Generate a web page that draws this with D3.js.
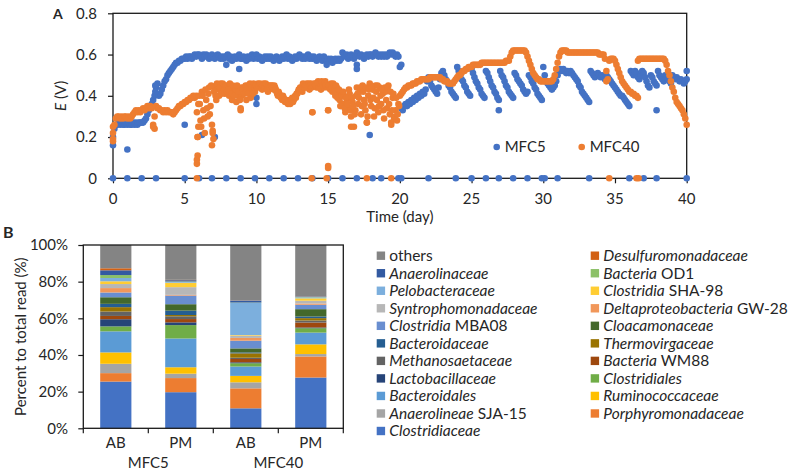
<!DOCTYPE html>
<html lang="en">
<head>
<meta charset="UTF-8" />
<title>MFC voltage and community</title>
<script src="https://d3js.org/d3.v7.min.js"></script>
<style>
  body { margin: 0; background: #fff; }
  svg { display: block; }
  text { font-family: Lato, "Open Sans", sans-serif; fill: #262626; }
</style>
</head>
<body>
<script>

// ---- panel A : cell voltage, one reading every 0.1 day ----
var dayStep = 0.1;

var mfc5 = [
  0.16,0.24,0.26,0.26,0.27,0.26,0.27,0.26,0.26,0.27,
  0.26,0.27,0.26,0.26,0.27,0.26,0.27,0.26,0.27,0.27,
  0.27,0.27,0.28,0.29,0.31,0.33,0.35,0.36,0.38,0.40,
  0.44,0.46,0.40,0.41,0.43,0.45,0.47,0.48,0.50,0.51,
  0.52,0.53,0.54,0.55,0.56,0.56,0.57,0.57,0.58,0.58,
  0.58,0.59,0.58,0.59,0.59,0.58,0.59,0.60,0.59,0.60,
  0.60,0.59,0.58,0.60,0.59,0.60,0.59,0.58,0.59,0.60,
  0.59,0.58,0.59,0.60,0.59,0.58,0.59,0.58,0.59,0.59,
  0.60,0.58,0.59,0.57,0.58,0.59,0.58,0.59,0.60,0.58,
  0.58,0.59,0.58,0.57,0.59,0.58,0.59,0.60,0.58,0.59,
  0.60,0.58,0.59,0.58,0.57,0.58,0.59,0.58,0.59,0.58,
  0.59,0.58,0.57,0.58,0.59,0.58,0.57,0.58,0.59,0.58,
  0.59,0.60,0.58,0.59,0.58,0.57,0.58,0.59,0.58,0.59,
  0.60,0.59,0.58,0.59,0.58,0.59,0.60,0.58,0.59,0.58,
  0.59,0.58,0.57,0.58,0.59,0.58,0.57,0.59,0.58,0.57,
  0.58,0.57,0.58,0.56,0.57,0.58,0.57,0.58,0.57,0.58,
  0.61,0.60,0.59,0.60,0.58,0.59,0.60,0.59,0.58,0.59,
  0.61,0.60,0.59,0.60,0.59,0.58,0.59,0.60,0.59,0.60,
  0.60,0.59,0.60,0.61,0.60,0.59,0.60,0.59,0.60,0.59,
  0.60,0.59,0.60,0.61,0.60,0.61,0.60,0.59,0.60,0.59,
  0.54,0.34,0.33,0.35,0.36,0.35,0.37,0.36,0.38,0.37,
  0.39,0.38,0.40,0.39,0.41,0.40,0.42,0.41,0.43,0.47,
  0.49,0.47,0.45,0.44,0.43,0.42,0.41,0.44,0.48,0.51,
  0.52,0.50,0.48,0.47,0.45,0.44,0.42,0.41,0.40,0.39,
  0.54,0.52,0.50,0.48,0.47,0.45,0.44,0.42,0.41,0.40,
  0.53,0.51,0.49,0.47,0.46,0.44,0.43,0.41,0.40,0.39,
  0.52,0.51,0.49,0.47,0.45,0.44,0.42,0.41,0.39,0.38,
  0.52,0.50,0.49,0.47,0.45,0.44,0.42,0.41,0.40,0.39,
  0.51,0.50,0.48,0.47,0.46,0.45,0.43,0.42,0.41,0.42,
  0.50,0.49,0.47,0.46,0.44,0.43,0.41,0.40,0.39,0.38,
  0.54,0.50,0.47,0.46,0.45,0.44,0.43,0.44,0.45,0.47,
  0.50,0.52,0.53,0.52,0.53,0.52,0.51,0.52,0.51,0.52,
  0.51,0.50,0.49,0.48,0.47,0.45,0.44,0.42,0.41,0.40,
  0.39,0.38,0.37,0.52,0.51,0.50,0.49,0.50,0.51,0.50,
  0.49,0.50,0.49,0.48,0.50,0.49,0.48,0.47,0.46,0.45,
  0.44,0.43,0.42,0.41,0.40,0.40,0.39,0.38,0.37,0.36,
  0.35,0.52,0.51,0.50,0.52,0.51,0.49,0.48,0.50,0.52,
  0.51,0.49,0.47,0.45,0.44,0.50,0.49,0.47,0.46,0.45,
  0.52,0.50,0.49,0.48,0.47,0.50,0.49,0.48,0.47,0.46,
  0.50,0.49,0.48,0.49,0.48,0.47,0.48,0.47,0.46,0.47,
  0.48
];

var mfc40 = [
  0.19,0.26,0.29,0.30,0.30,0.29,0.30,0.29,0.30,0.30,
  0.29,0.30,0.29,0.30,0.31,0.32,0.33,0.32,0.33,0.32,
  0.33,0.34,0.33,0.34,0.35,0.34,0.35,0.34,0.26,0.24,
  0.35,0.34,0.34,0.33,0.33,0.32,0.33,0.32,0.33,0.32,
  0.32,0.32,0.31,0.32,0.33,0.34,0.35,0.35,0.36,0.36,
  0.37,0.37,0.38,0.38,0.39,0.39,0.40,0.39,0.40,0.20,
  0.40,0.28,0.42,0.33,0.22,0.38,0.30,0.44,0.35,0.26,
  0.19,0.44,0.38,0.45,0.40,0.46,0.42,0.45,0.41,0.44,
  0.45,0.40,0.43,0.38,0.42,0.44,0.37,0.40,0.43,0.34,
  0.40,0.44,0.42,0.38,0.45,0.43,0.39,0.44,0.46,0.42,
  0.45,0.46,0.44,0.45,0.43,0.46,0.45,0.44,0.42,0.45,
  0.44,0.45,0.43,0.44,0.42,0.40,0.41,0.39,0.38,0.39,
  0.37,0.38,0.36,0.38,0.37,0.39,0.38,0.40,0.41,0.42,
  0.43,0.44,0.42,0.45,0.44,0.46,0.45,0.43,0.46,0.32,
  0.45,0.46,0.44,0.47,0.45,0.43,0.46,0.44,0.47,0.45,
  0.33,0.44,0.46,0.42,0.45,0.40,0.44,0.41,0.38,0.42,
  0.36,0.40,0.32,0.38,0.34,0.41,0.30,0.37,0.25,0.33,
  0.44,0.36,0.42,0.31,0.45,0.38,0.33,0.27,0.40,0.46,
  0.35,0.43,0.30,0.45,0.38,0.32,0.44,0.36,0.41,0.29,
  0.42,0.34,0.45,0.31,0.27,0.39,0.29,0.33,0.28,0.36,
  0.40,0.41,0.42,0.43,0.44,0.44,0.45,0.45,0.45,0.46,
  0.46,0.46,0.47,0.47,0.47,0.48,0.48,0.48,0.48,0.48,
  0.48,0.49,0.49,0.49,0.49,0.49,0.49,0.49,0.49,0.48,
  0.48,0.47,0.47,0.47,0.46,0.46,0.46,0.46,0.47,0.48,
  0.49,0.50,0.50,0.51,0.52,0.52,0.53,0.53,0.54,0.54,
  0.54,0.55,0.55,0.55,0.55,0.55,0.55,0.56,0.56,0.56,
  0.56,0.56,0.56,0.56,0.56,0.56,0.56,0.56,0.56,0.56,
  0.56,0.56,0.56,0.56,0.57,0.57,0.57,0.59,0.61,0.62,
  0.62,0.62,0.62,0.62,0.62,0.62,0.62,0.62,0.61,0.59,
  0.57,0.55,0.53,0.51,0.50,0.49,0.48,0.48,0.47,0.47,
  0.47,0.47,0.47,0.47,0.47,0.47,0.47,0.48,0.50,0.53,
  0.56,0.59,0.61,0.62,0.62,0.62,0.62,0.61,0.61,0.61,
  0.61,0.61,0.61,0.61,0.61,0.61,0.61,0.61,0.61,0.61,
  0.61,0.61,0.61,0.61,0.61,0.61,0.61,0.61,0.61,0.60,
  0.60,0.60,0.60,0.58,0.52,0.48,0.57,0.58,0.58,0.58,
  0.57,0.55,0.53,0.51,0.49,0.47,0.46,0.45,0.44,0.43,
  0.42,0.42,0.41,0.41,0.40,0.40,0.57,0.58,0.58,0.58,
  0.58,0.58,0.58,0.58,0.58,0.58,0.58,0.58,0.58,0.58,
  0.58,0.58,0.58,0.58,0.58,0.57,0.55,0.52,0.50,0.47,
  0.44,0.42,0.39,0.37,0.36,0.35,0.34,0.33,0.31,0.29,
  0.26
];

// MFC40 noisy stretch also logged half-way between the readings above (5.85 ... 19.95 day)
var mfc40HalfStart = 5.85;
var mfc40Half = [
  0.32,0.36,
  0.36,0.25,0.40,0.29,0.43,0.34,0.41,0.31,0.45,0.23,
  0.42,0.40,0.46,0.43,0.44,0.41,0.46,0.43,0.45,0.42,
  0.43,0.46,0.41,0.45,0.40,0.43,0.45,0.42,0.38,0.44,
  0.43,0.41,0.45,0.43,0.41,0.46,0.44,0.41,0.44,0.45,
  0.44,0.45,0.46,0.44,0.45,0.44,0.46,0.43,0.45,0.44,
  0.45,0.44,0.45,0.43,0.41,0.42,0.40,0.39,0.40,0.38,
  0.38,0.37,0.37,0.36,0.38,0.37,0.39,0.39,0.41,0.43,
  0.44,0.43,0.46,0.44,0.45,0.44,0.46,0.45,0.44,0.45,
  0.46,0.45,0.46,0.44,0.46,0.47,0.45,0.46,0.45,0.44,
  0.45,0.43,0.44,0.46,0.43,0.45,0.39,0.43,0.35,0.40,
  0.42,0.34,0.39,0.36,0.43,0.33,0.39,0.35,0.31,0.40,
  0.41,0.39,0.44,0.35,0.42,0.36,0.44,0.30,0.43,0.38,
  0.44,0.39,0.34,0.42,0.45,0.35,0.40,0.43,0.33,0.44,
  0.38,0.44,0.36,0.42,0.33,0.41,0.30,0.39,0.31,0.35
];

// stray readings [day, V]
var mfc5Stray = [[0,0.20],[1.0,0.14],[2.95,0.42],[2.95,0.45],[5.0,0.26],[6.2,0.21],[7.1,0.20],
  [7.9,0.55],[8.8,0.53],[10.0,0.39],[10.0,0.36],[14.9,0.55],[17.0,0.55],[17.0,0.53],
  [17.9,0.21],[20.1,0.55],[26.9,0.33],[37.9,0.33],[40,0.52]];
var mfc40Stray = [[0,0.22],[0,0.25],[0,0.18],[2.8,0.25],[2.9,0.30],[5.85,0.07],[5.85,0.09],
  [5.9,0.11],[5.9,0.20],[5.95,0.25],[6.9,0.16],[6.95,0.22],[8.9,0.33],[13.9,0.32],
  [15.0,0.06],[15.0,0.05],[15.0,0.33],[16.6,0.25],[17.7,0.27],[19.4,0.26],[34.4,0.47],[36.6,0.39]];

// days on which the cell read 0 V
var mfc5Zero = [0,1,2,3,5,6,6.9,7.9,8.9,9.9,10.9,11.9,12.9,13.9,15,16,17,18.1,18.7,19.9,20.1,
  22,23.9,25,26,26.9,27.9,28.9,29.9,30.1,31,33.2,36,37,37.9,40];
var mfc40Zero = [5.85,13.85,14.9,17.7,19.4,34.6,36.5,36.65];

var dayTicks = [0,5,10,15,20,25,30,35,40];
var voltTicks = [0,0.2,0.4,0.6,0.8];

// ---- panel B : relative abundance (%) , stacked from the bottom ----
var samples = ["MFC5 AB","MFC5 PM","MFC40 AB","MFC40 PM"];
var sampleLabels = ["AB","PM","AB","PM"];
var reactors = ["MFC5","MFC40"];

// [italic part, plain part]
var taxa = [
  ["Clostridiaceae",""],["Porphyromonadaceae",""],["Anaerolineae"," SJA-15"],["Ruminococcaceae",""],
  ["Bacteroidales",""],["Clostridiales",""],["Lactobacillaceae",""],["Bacteria"," WM88"],
  ["Methanosaetaceae",""],["Thermovirgaceae",""],["Bacteroidaceae",""],["Cloacamonaceae",""],
  ["Clostridia"," MBA08"],["Deltaproteobacteria"," GW-28"],["Syntrophomonadaceae",""],["Clostridia"," SHA-98"],
  ["Pelobacteraceae",""],["Bacteria"," OD1"],["Anaerolinaceae",""],["Desulfuromonadaceae",""],["","others"]
];
var taxaColors = ["#4472C4","#ED7D31","#A5A5A5","#FFC000","#5B9BD5","#70AD47","#264478","#9E480E",
  "#636363","#997300","#255E91","#43682B","#698ED0","#F1975A","#B7B7B7","#FFCD33",
  "#7CAFDD","#8CC168","#335AA1","#D26012","#848484"];

var mfc5AB  = [25.5,4.6,5.1,6.2,11.5,2.7,3.9,1.8,2.4,2.4,1.8,3.6,2.6,2.4,2.2,1.5,1.8,1.6,2.6,1.1,12.7];
var mfc5PM  = [19.7,7.7,2.4,3.5,15.7,7.3,1.5,1.8,1.5,0.7,2.4,3.5,4.7,0.4,4.2,2.4,0.4,0.3,0.7,0.2,19.0];
var mfc40AB = [10.9,10.9,3.3,3.5,5.1,1.8,0.5,1.8,0.7,2.4,0.5,2.2,4.2,1.5,1.3,0.3,17.5,0.2,1.1,0.1,30.2];
var mfc40PM = [27.7,11.5,1.3,5.3,6.4,2.4,0.4,2.7,1.1,1.3,0.9,4.0,2.4,0.7,1.5,1.3,0.5,0.2,0.3,0.1,28.0];
var pctTicks = [0,20,40,60,80,100];


var svg = d3.select("body").append("svg").attr("width", 792).attr("height", 474);
var fs = 15;

// ================= panel A =================
var xA = d3.scaleLinear().domain([0, 40]).range([113, 686.7]);
var yA = d3.scaleLinear().domain([0, 0.8]).range([178.3, 13.3]);
var blue = "#4472C4", orange = "#ED7D31";

function toPoints(arr, start) { return arr.map(function(v, i) { return [start + i * dayStep, v]; }); }

var gA = svg.append("g");
function dots(pts, color) {
  gA.append("g").selectAll("circle").data(pts).join("circle")
    .attr("cx", function(d) { return xA(d[0]); })
    .attr("cy", function(d) { return yA(d[1]); })
    .attr("r", 3.3).attr("fill", color);
}

// frame + ticks
gA.append("rect").attr("x", xA(0)).attr("y", yA(0.8))
  .attr("width", xA(40) - xA(0)).attr("height", yA(0) - yA(0.8))
  .attr("fill", "none").attr("stroke", "#1a1a1a").attr("stroke-width", 1.3);
gA.append("g").attr("transform", "translate(0," + yA(0) + ")")
  .call(d3.axisBottom(xA).tickValues(dayTicks).tickSize(5).tickFormat(""))
  .call(function(g) { g.select(".domain").remove(); g.selectAll("line").attr("stroke", "#1a1a1a").attr("stroke-width", 1.2); });
gA.append("g").attr("transform", "translate(" + xA(0) + ",0)")
  .call(d3.axisLeft(yA).tickValues(voltTicks).tickSize(5).tickFormat(""))
  .call(function(g) { g.select(".domain").remove(); g.selectAll("line").attr("stroke", "#1a1a1a").attr("stroke-width", 1.2); });

dots(toPoints(mfc5, 0), blue);
dots(mfc5Stray, blue);
dots(mfc5Zero.map(function(d) { return [d, 0]; }), blue);
dots(toPoints(mfc40, 0), orange);
dots(toPoints(mfc40Half, mfc40HalfStart), orange);
dots(mfc40Stray, orange);
dots(mfc40Zero.map(function(d) { return [d, 0]; }), orange);

gA.selectAll("text.xt").data(dayTicks).join("text").attr("class", "xt")
  .attr("x", function(d) { return xA(d); }).attr("y", 204.3)
  .attr("text-anchor", "middle").attr("font-size", fs).text(function(d) { return d; });
gA.selectAll("text.yt").data(voltTicks).join("text").attr("class", "yt")
  .attr("x", 97).attr("y", function(d) { return yA(d); }).attr("dy", "0.35em")
  .attr("text-anchor", "end").attr("font-size", fs).text(function(d) { return d === 0 ? "0" : d3.format(".1f")(d); });

gA.append("text").attr("x", xA(20)).attr("y", 221.7).attr("text-anchor", "middle")
  .attr("font-size", fs).text("Time (day)");
var yt = gA.append("text").attr("transform", "translate(66," + yA(0.4) + ") rotate(-90)")
  .attr("text-anchor", "middle").attr("font-size", fs);
yt.append("tspan").attr("font-style", "italic").text("E");
yt.append("tspan").text(" (V)");
gA.append("text").attr("x", 53).attr("y", 18.5).attr("font-size", 14).attr("font-weight", "bold").text("A");

// legend A
var legA = [["MFC5", blue, 496.7], ["MFC40", orange, 581.7]];
legA.forEach(function(l) {
  gA.append("circle").attr("cx", l[2]).attr("cy", 147).attr("r", 3.3).attr("fill", l[1]);
  gA.append("text").attr("x", l[2] + 8).attr("y", 147).attr("dy", "0.35em").attr("font-size", fs).text(l[0]);
});

// ================= panel B =================
var gB = svg.append("g");
var xB = d3.scaleBand().domain(samples).range([83.3, 343.3]).paddingInner(0.52).paddingOuter(0.26);
var yB = d3.scaleLinear().domain([0, 100]).range([428.3, 245]);

var table = samples.map(function(s, i) {
  var vals = [mfc5AB, mfc5PM, mfc40AB, mfc40PM][i];
  var row = { sample: s };
  vals.forEach(function(v, j) { row["t" + j] = v; });
  return row;
});
var keys = taxa.map(function(t, j) { return "t" + j; });
var stacked = d3.stack().keys(keys)(table);

gB.selectAll("g.layer").data(stacked).join("g").attr("class", "layer")
  .attr("fill", function(d, j) { return taxaColors[j]; })
  .selectAll("rect").data(function(d) { return d; }).join("rect")
  .attr("x", function(d) { return xB(d.data.sample); })
  .attr("width", xB.bandwidth())
  .attr("y", function(d) { return yB(d[1]); })
  .attr("height", function(d) { return yB(d[0]) - yB(d[1]); });

gB.append("rect").attr("x", 83.3).attr("y", yB(100)).attr("width", 260).attr("height", yB(0) - yB(100))
  .attr("fill", "none").attr("stroke", "#1a1a1a").attr("stroke-width", 1.3);
var bounds = [83.3, 148.3, 213.3, 278.3, 343.3];
gB.selectAll("line.bt").data(bounds).join("line").attr("class", "bt")
  .attr("x1", function(d) { return d; }).attr("x2", function(d) { return d; })
  .attr("y1", yB(0)).attr("y2", yB(0) + 5).attr("stroke", "#1a1a1a").attr("stroke-width", 1.2);
gB.append("g").attr("transform", "translate(83.3,0)")
  .call(d3.axisLeft(yB).tickValues(pctTicks).tickSize(5).tickFormat(""))
  .call(function(g) { g.select(".domain").remove(); g.selectAll("line").attr("stroke", "#1a1a1a").attr("stroke-width", 1.2); });

gB.selectAll("text.pt").data(pctTicks).join("text").attr("class", "pt")
  .attr("x", 68).attr("y", function(d) { return yB(d); }).attr("dy", "0.35em")
  .attr("text-anchor", "end").attr("font-size", fs).text(function(d) { return d + "%"; });
gB.selectAll("text.st").data(samples).join("text").attr("class", "st")
  .attr("x", function(d) { return xB(d) + xB.bandwidth() / 2; }).attr("y", 448.3)
  .attr("text-anchor", "middle").attr("font-size", fs).text(function(d, i) { return sampleLabels[i]; });
gB.selectAll("text.rt").data(reactors).join("text").attr("class", "rt")
  .attr("x", function(d, i) { return (bounds[i * 2] + bounds[i * 2 + 2]) / 2; }).attr("y", 468.3)
  .attr("text-anchor", "middle").attr("font-size", fs).text(function(d) { return d; });

gB.append("text").attr("transform", "translate(26," + yB(50) + ") rotate(-90)")
  .attr("text-anchor", "middle").attr("font-size", fs).text("Percent to total read (%)");
gB.append("text").attr("x", 3).attr("y", 238).attr("font-size", 16).attr("font-weight", "bold").text("B");

// legend B: reversed order, two columns
var legItems = taxa.map(function(t, j) { return j; }).reverse();
legItems.forEach(function(j, k) {
  var col = k % 2, row = Math.floor(k / 2);
  var sx = col === 0 ? 376.7 : 590.7;
  var cy = 255.7 + row * 17.53;
  gB.append("rect").attr("x", sx).attr("y", cy - 4.2).attr("width", 8.4).attr("height", 8.4).attr("fill", taxaColors[j]);
  var t = gB.append("text").attr("x", sx + 12.6).attr("y", cy).attr("dy", "0.35em").attr("font-size", 15.5);
  if (taxa[j][0]) t.append("tspan").attr("font-style", "italic").text(taxa[j][0]);
  if (taxa[j][1]) t.append("tspan").text(taxa[j][1]);
});

</script>
</body>
</html>
